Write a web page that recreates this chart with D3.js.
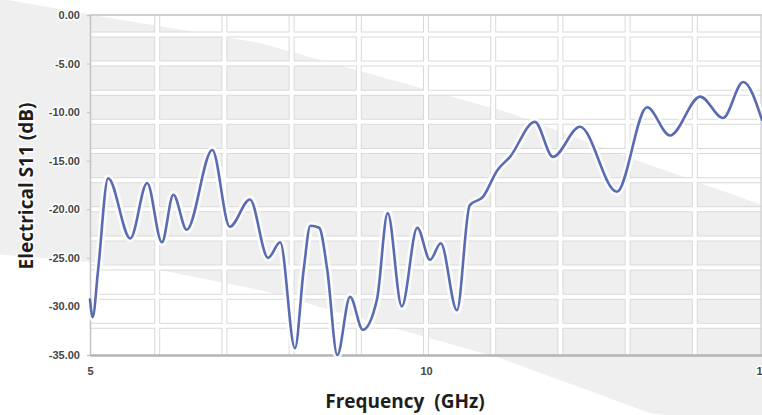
<!DOCTYPE html>
<html>
<head>
<meta charset="utf-8">
<script src="https://cdn.jsdelivr.net/npm/d3@7"></script>
<style>
  html, body { margin: 0; padding: 0; background: #ffffff; }
  svg { display: block; }
</style>
</head>
<body>
<svg id="chart" width="762" height="415"></svg>
<script>
// ---- data ----
const freqGHz = [5.00, 5.04, 5.12, 5.27, 5.60, 5.85, 6.07, 6.24, 6.44, 6.82, 7.08, 7.38, 7.65, 7.83, 8.05, 8.18, 8.28, 8.41, 8.53, 8.68, 8.87, 9.06, 9.27, 9.43, 9.64, 9.87, 10.06, 10.22, 10.46, 10.65, 10.85, 11.06, 11.25, 11.62, 11.89, 12.29, 12.84, 13.29, 13.63, 14.08, 14.42, 14.72, 15.00];
const s11dB   = [-29.3, -31.1, -26.3, -16.8, -23.0, -17.3, -23.4, -18.5, -22.1, -13.9, -21.8, -19.0, -25.0, -23.4, -34.3, -26.2, -21.7, -21.9, -26.2, -35.0, -29.0, -32.4, -29.3, -20.4, -30.0, -21.9, -25.2, -23.5, -30.4, -19.6, -18.7, -16.0, -14.6, -11.0, -14.6, -11.5, -18.2, -9.5, -12.4, -8.4, -10.6, -6.9, -10.8];

const xTickValues = [5, 10, 15];
const yTickValues = [0, -5, -10, -15, -20, -25, -30, -35];
const xGridValues = [6, 7, 8, 9, 10, 11, 12, 13, 14];
const yGridValues = [-2, -5, -8, -11, -14, -17, -20, -23, -26, -29, -32];

// light grey diagonal background band (in data units)
const bandUpperF  = [3.40, 5.30, 7.53, 11.25, 13.04, 15.00, 15.70];
const bandUpperDB = [2.0, -0.31, -2.88, -10.09, -14.72, -19.56, -21.3];
const bandLowerF  = [15.70, 13.33, 11.10, 7.53, 6.04, 5.00, 3.40];
const bandLowerDB = [-43.0, -40.97, -35.31, -28.31, -26.25, -25.43, -24.5];

const xLabel = "Frequency  (GHz)";
const yLabel = "Electrical S11 (dB)";

// ---- layout ----
const svg = d3.select("#chart");
const W = 762, H = 415;
const m = { left: 90, top: 15, right: 0, bottom: 60 };
const pw = W - m.left - m.right, ph = H - m.top - m.bottom;

const x = d3.scaleLinear().domain([5, 15]).range([m.left, m.left + pw]);
const y = d3.scaleLinear().domain([0, -35]).range([m.top, m.top + ph]);

// background band
const bandPts = bandUpperF.map((f, i) => [x(f), y(bandUpperDB[i])])
  .concat(bandLowerF.map((f, i) => [x(f), y(bandLowerDB[i])]));
svg.append("path")
  .attr("d", d3.line()(bandPts) + "Z")
  .attr("fill", "#efefef");

// clip for plot
svg.append("clipPath").attr("id", "plotclip")
  .append("rect").attr("x", m.left).attr("y", m.top).attr("width", pw).attr("height", ph);

const grid = svg.append("g").attr("clip-path", "url(#plotclip)");

// grid: grey border lines underneath, white gaps on top
function drawGrid(stroke, width) {
  grid.append("g")
    .selectAll("line")
    .data(xGridValues)
    .join("line")
    .attr("x1", d => x(d)).attr("x2", d => x(d))
    .attr("y1", m.top).attr("y2", m.top + ph)
    .attr("stroke", stroke).attr("stroke-width", width);
  grid.append("g")
    .selectAll("line")
    .data(yGridValues)
    .join("line")
    .attr("x1", m.left).attr("x2", m.left + pw)
    .attr("y1", d => y(d)).attr("y2", d => y(d))
    .attr("stroke", stroke).attr("stroke-width", width);
}
drawGrid("#d9d9d9", 6);
drawGrid("#ffffff", 4);

// frame
svg.append("line").attr("x1", m.left).attr("x2", m.left + pw).attr("y1", m.top).attr("y2", m.top)
  .attr("stroke", "#cfcfcf").attr("stroke-width", 2);
svg.append("line").attr("x1", m.left + pw - 1).attr("x2", m.left + pw - 1).attr("y1", m.top).attr("y2", m.top + ph)
  .attr("stroke", "#d5d5d5").attr("stroke-width", 1.5);

const tickFont = "Liberation Sans, Arial, sans-serif";

// y axis
const yAxis = d3.axisLeft(y).tickValues(yTickValues).tickSize(3).tickPadding(7)
  .tickFormat(d => d.toFixed(2).replace("\u2212", "-"));
const gy = svg.append("g").attr("transform", `translate(${m.left},0)`).call(yAxis);
gy.select(".domain").attr("stroke", "#c4c4c4").attr("stroke-width", 1.5);
gy.selectAll(".tick line").attr("stroke", "#c4c4c4");
gy.selectAll(".tick text")
  .attr("fill", "#454545")
  .attr("font-family", tickFont)
  .attr("font-size", 11).attr("font-weight", "bold")
  .attr("paint-order", "stroke").attr("stroke", "#ffffff").attr("stroke-width", 3).attr("stroke-linejoin", "round");

// x axis
const xAxis = d3.axisBottom(x).tickValues(xTickValues).tickSize(0).tickPadding(12)
  .tickFormat(d3.format("d"));
const gx = svg.append("g").attr("transform", `translate(0,${m.top + ph})`).call(xAxis);
gx.select(".domain").attr("stroke", "#b4b4b4").attr("stroke-width", 2.5);
gx.selectAll(".tick text")
  .attr("fill", "#454545")
  .attr("font-family", tickFont)
  .attr("font-size", 11).attr("font-weight", "bold")
  .attr("paint-order", "stroke").attr("stroke", "#ffffff").attr("stroke-width", 3).attr("stroke-linejoin", "round");

// curve
const pts = freqGHz.map((f, i) => [f, s11dB[i]]);
const line = d3.line().x(d => x(d[0])).y(d => y(d[1])).curve(d3.curveMonotoneX);
const cg = svg.append("g");
cg.append("path").datum(pts).attr("d", line)
  .attr("fill", "none").attr("stroke", "#ffffff").attr("stroke-opacity", 0.75)
  .attr("stroke-width", 8).attr("stroke-linejoin", "round");
cg.append("path").datum(pts).attr("d", line)
  .attr("fill", "none").attr("stroke", "#5b6bb2")
  .attr("stroke-width", 2.6).attr("stroke-linejoin", "round").attr("stroke-linecap", "round");

// axis titles
svg.append("text")
  .attr("x", 405).attr("y", 408)
  .attr("text-anchor", "middle")
  .attr("font-family", "Open Sans, Liberation Sans, sans-serif")
  .attr("font-size", 19).attr("font-weight", "bold")
  .attr("fill", "#1e1e1e")
  .attr("xml:space", "preserve")
  .style("white-space", "pre")
  .attr("paint-order", "stroke").attr("stroke", "#ffffff").attr("stroke-width", 3)
  .text(xLabel);

svg.append("text")
  .attr("transform", `translate(33,${186}) rotate(-90)`)
  .attr("text-anchor", "middle")
  .attr("font-family", "Open Sans, Liberation Sans, sans-serif")
  .attr("font-size", 19).attr("font-weight", "bold")
  .attr("fill", "#1e1e1e")
  .attr("paint-order", "stroke").attr("stroke", "#ffffff").attr("stroke-width", 3)
  .text(yLabel);
</script>
</body>
</html>
